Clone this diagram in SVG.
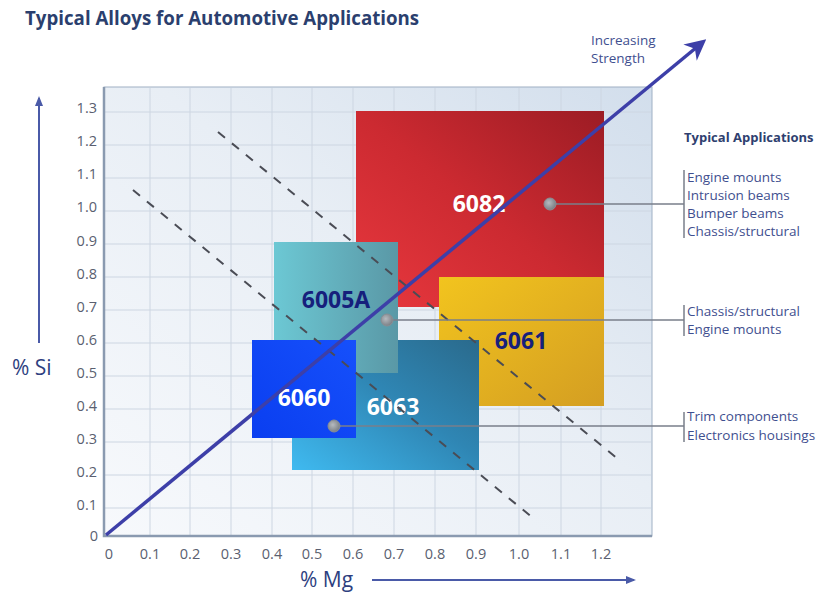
<svg xmlns="http://www.w3.org/2000/svg" width="823" height="592" viewBox="0 0 823 592">
<style>
  .title{font-family:"Open Sans","Liberation Sans",sans-serif;font-weight:bold;font-size:18.7px;fill:#2b3f6e}
  .tick{font-family:"Open Sans","Liberation Sans",sans-serif;font-size:14.5px;fill:#5a5f70}
  .axis{font-family:"Open Sans","Liberation Sans",sans-serif;font-size:21px;fill:#2e3f80}
  .lbl{font-family:"Open Sans","Liberation Sans",sans-serif;font-weight:bold;font-size:23px;text-anchor:middle}
  .app{font-family:"Open Sans","Liberation Sans",sans-serif;font-size:13.5px;fill:#3f4f8f}
  .apph{font-family:"Open Sans","Liberation Sans",sans-serif;font-weight:bold;font-size:13px;fill:#2f3f6f}
  .grid{stroke:#cdd6e2;stroke-width:1;fill:none}
  .dash{stroke:#4a4c55;stroke-width:2;stroke-dasharray:9 9;fill:none}
  .lead{stroke:#7a7f8a;stroke-width:1.5;fill:none}
  .dot{fill:url(#dotg);stroke:#8a8e94;stroke-width:1}
</style>
<defs>
  <linearGradient id="bg" x1="0" y1="1" x2="1" y2="0">
    <stop offset="0" stop-color="#f7f9fc"/>
    <stop offset="0.55" stop-color="#e8eef5"/>
    <stop offset="1" stop-color="#d2deec"/>
  </linearGradient>
  <linearGradient id="red" x1="0" y1="1" x2="1" y2="0">
    <stop offset="0" stop-color="#e8383e"/>
    <stop offset="0.5" stop-color="#cc2a31"/>
    <stop offset="1" stop-color="#9c1c24"/>
  </linearGradient>
  <linearGradient id="yel" x1="0" y1="0" x2="1" y2="1">
    <stop offset="0" stop-color="#f2c41e"/>
    <stop offset="1" stop-color="#d49e22"/>
  </linearGradient>
  <linearGradient id="b63" x1="0" y1="1" x2="1" y2="0">
    <stop offset="0" stop-color="#3fbaf0"/>
    <stop offset="0.55" stop-color="#2f86b4"/>
    <stop offset="1" stop-color="#2a6a8c"/>
  </linearGradient>
  <linearGradient id="t05" x1="0" y1="0" x2="1" y2="0">
    <stop offset="0" stop-color="#6cc8d4"/>
    <stop offset="1" stop-color="#5a98a6"/>
  </linearGradient>
  <linearGradient id="b60" x1="0" y1="1" x2="1" y2="0">
    <stop offset="0" stop-color="#0a3ef0"/>
    <stop offset="1" stop-color="#1650fb"/>
  </linearGradient>
  <radialGradient id="dotg" cx="0.4" cy="0.4" r="0.6">
    <stop offset="0" stop-color="#b6babf"/>
    <stop offset="1" stop-color="#7c8187"/>
  </radialGradient>
  <marker id="bigHead" viewBox="0 0 10 10" refX="8" refY="5" markerWidth="6" markerHeight="6" orient="auto" markerUnits="strokeWidth">
    <path d="M0,0 L10,5 L0,10 L3,5 Z" fill="#3d3fa8"/>
  </marker>
  <marker id="axHead" viewBox="0 0 10 10" refX="8" refY="5" markerWidth="5" markerHeight="5" orient="auto" markerUnits="strokeWidth">
    <path d="M0,1 L10,5 L0,9 Z" fill="#4a5aa8"/>
  </marker>
</defs>

<rect x="0" y="0" width="823" height="592" fill="#ffffff"/>
<text class="title" x="25" y="25">Typical Alloys for Automotive Applications</text>

<!-- plot panel -->
<g id="panel">
  <rect x="104" y="87" width="548" height="449" fill="url(#bg)" stroke="#9fb0c4" stroke-width="1"/>
  <g class="grid">
    <path d="M150,88V535M190,88V535M231,88V535M272,88V535M312,88V535M353,88V535M394,88V535M435,88V535M476,88V535M519,88V535M561,88V535M601,88V535"/>
    <path d="M105,112H651M105,145H651M105,178H651M105,211H651M105,244H651M105,277H651M105,310H651M105,343H651M105,376H651M105,409H651M105,442H651M105,475H651M105,508H651"/>
  </g>
  <path d="M104,87V536H652" fill="none" stroke="#8a9ab0" stroke-width="2.5"/>
</g>

<!-- axis tick labels -->
<g id="yticks" class="tick" text-anchor="end">
  <text x="97" y="113">1.3</text>
  <text x="97" y="146">1.2</text>
  <text x="97" y="179">1.1</text>
  <text x="97" y="212">1.0</text>
  <text x="97" y="246">0.9</text>
  <text x="97" y="279">0.8</text>
  <text x="97" y="312">0.7</text>
  <text x="97" y="345">0.6</text>
  <text x="97" y="378">0.5</text>
  <text x="97" y="411">0.4</text>
  <text x="97" y="444">0.3</text>
  <text x="97" y="477">0.2</text>
  <text x="97" y="510">0.1</text>
  <text x="98" y="541">0</text>
</g>
<g id="xticks" class="tick" text-anchor="middle">
  <text x="109" y="559">0</text>
  <text x="150" y="559">0.1</text>
  <text x="190" y="559">0.2</text>
  <text x="231" y="559">0.3</text>
  <text x="272" y="559">0.4</text>
  <text x="312" y="559">0.5</text>
  <text x="353" y="559">0.6</text>
  <text x="394" y="559">0.7</text>
  <text x="435" y="559">0.8</text>
  <text x="476" y="559">0.9</text>
  <text x="519" y="559">1.0</text>
  <text x="561" y="559">1.1</text>
  <text x="601" y="559">1.2</text>
</g>

<!-- axis titles -->
<g id="axis-si">
  <line x1="39" y1="343" x2="39" y2="98" stroke="#4a5aa8" stroke-width="2" marker-end="url(#axHead)"/>
  <text class="axis" x="12" y="375">% Si</text>
</g>
<g id="axis-mg">
  <text class="axis" x="300" y="587">% Mg</text>
  <line x1="372" y1="580" x2="634" y2="580" stroke="#4a5aa8" stroke-width="2" marker-end="url(#axHead)"/>
</g>

<!-- alloy nodes -->
<g id="n6082">
  <rect x="356" y="111" width="248" height="196" fill="url(#red)"/>
  <text class="lbl" x="479" y="212" fill="#ffffff">6082</text>
</g>
<g id="n6061">
  <rect x="439" y="277" width="165" height="129" fill="url(#yel)"/>
  <text class="lbl" x="521" y="349" fill="#16207c">6061</text>
</g>
<g id="n6063">
  <rect x="292" y="340" width="187" height="130" fill="url(#b63)"/>
  <text class="lbl" x="393" y="415" fill="#ffffff">6063</text>
</g>
<g id="n6005A">
  <rect x="274" y="242" width="124" height="131" fill="url(#t05)"/>
  <text class="lbl" x="336" y="308" fill="#16207c">6005A</text>
</g>
<g id="n6060">
  <rect x="252" y="340" width="104" height="98" fill="url(#b60)"/>
  <text class="lbl" x="304" y="406" fill="#ffffff">6060</text>
</g>

<!-- connectors -->
<g id="connectors">
  <line class="dash" x1="218" y1="132" x2="618" y2="459"/>
  <line class="dash" x1="133" y1="190" x2="533" y2="518"/>
  <line x1="106" y1="535" x2="703" y2="42" stroke="#3d3fa8" stroke-width="3.5" marker-end="url(#bigHead)"/>
  <path class="lead" d="M550,204H684M684,170V238"/>
  <path class="lead" d="M387,320H684M684,305V336"/>
  <path class="lead" d="M334,426H684M684,412V442"/>
  <circle class="dot" cx="550" cy="204" r="6"/>
  <circle class="dot" cx="387" cy="320" r="6"/>
  <circle class="dot" cx="334" cy="426" r="6"/>
</g>

<g id="strength-label" font-family="Open Sans, Liberation Sans, sans-serif" font-size="13.5" fill="#3f4f8f">
  <text x="591" y="45">Increasing</text>
  <text x="591" y="63">Strength</text>
</g>

<!-- applications -->
<g id="apps-head"><text class="apph" x="684" y="142">Typical Applications</text></g>
<g id="apps-6082" class="app">
  <text x="687" y="182">Engine mounts</text>
  <text x="687" y="200">Intrusion beams</text>
  <text x="687" y="218">Bumper beams</text>
  <text x="687" y="236">Chassis/structural</text>
</g>
<g id="apps-6061" class="app">
  <text x="687" y="316">Chassis/structural</text>
  <text x="687" y="334">Engine mounts</text>
</g>
<g id="apps-6063" class="app">
  <text x="687" y="421">Trim components</text>
  <text x="687" y="440">Electronics housings</text>
</g>
</svg>
